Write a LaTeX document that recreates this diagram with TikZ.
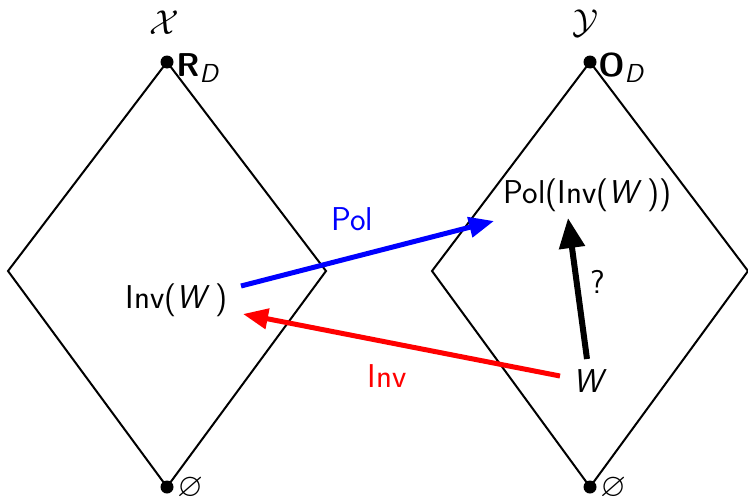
\documentclass[tikz,border=0pt]{standalone}
\usepackage{amsmath,amssymb}
\usetikzlibrary{arrows.meta}
\newcommand{\subD}{\raisebox{-3pt}{\fontsize{13}{15}\selectfont\itshape D}}
\begin{document}
\begin{tikzpicture}[x=0.5pt,y=-0.5pt,
  edge/.style={line width=1pt},
  dot/.style={circle,fill=black,inner sep=0pt,minimum size=6.5pt},
  lbl/.style={font=\sffamily\fontsize{16.5}{20}\selectfont,inner sep=0pt},
  bigarrow/.style={line width=2.5pt,-{Triangle[length=12.5pt,width=10pt]}},
  qarrow/.style={line width=3pt,-{Triangle[length=15pt,width=12.5pt]}}]
\useasboundingbox (0,0) rectangle (748,498);
% left diamond
\coordinate (lt) at (167,62);
\coordinate (ll) at (8,271);
\coordinate (lb) at (167,487);
\coordinate (lr) at (326,271);
\draw[edge] (lt) -- (lr) -- (lb) -- (ll) -- cycle;
% right diamond
\coordinate (rt) at (590,62);
\coordinate (rl) at (432,271);
\coordinate (rb) at (590,487);
\coordinate (rr) at (748,271);
\draw[edge] (rt) -- (rr) -- (rb) -- (rl) -- cycle;
\node[dot] (ltd) at (lt) {};
\node[dot] (lbd) at (lb) {};
\node[dot] (rtd) at (rt) {};
\node[dot] (rbd) at (rb) {};
\node[lbl] (X) at (164,23) {$\mathcal{X}$};
\node[lbl] (Y) at (585,23) {$\mathcal{Y}$};
\node[lbl,anchor=west] (RD) at (176,68) {\textbf{R}\subD};
\node[lbl,anchor=west] (OD) at (598,68) {\textbf{O}\subD};
\node[lbl,anchor=west] (e1) at (177,488) {$\varnothing$};
\node[lbl,anchor=west] (e2) at (600,488) {$\varnothing$};
\node[lbl] (inv) at (177,300) {Inv(\textit{W}\,)};
\node[lbl] (pol) at (588,195) {Pol(Inv(\textit{W}\,))};
\node[lbl] (w) at (590,381) {\textit{W}};
\node[lbl,blue] (pollbl) at (352,219) {Pol};
\node[lbl,red] (invlbl) at (387,376) {Inv};
\node[lbl] (q) at (598,282) {?};
\coordinate (b1) at (241,286);
\coordinate (b2) at (494,221);
\coordinate (r1) at (560,376);
\coordinate (r2) at (243,314);
\coordinate (k1) at (587,359);
\coordinate (k2) at (568,218);
\draw[bigarrow,blue] (b1) -- (b2);
\draw[bigarrow,red] (r1) -- (r2);
\draw[qarrow,black] (k1) -- (k2);
\end{tikzpicture}
\end{document}
